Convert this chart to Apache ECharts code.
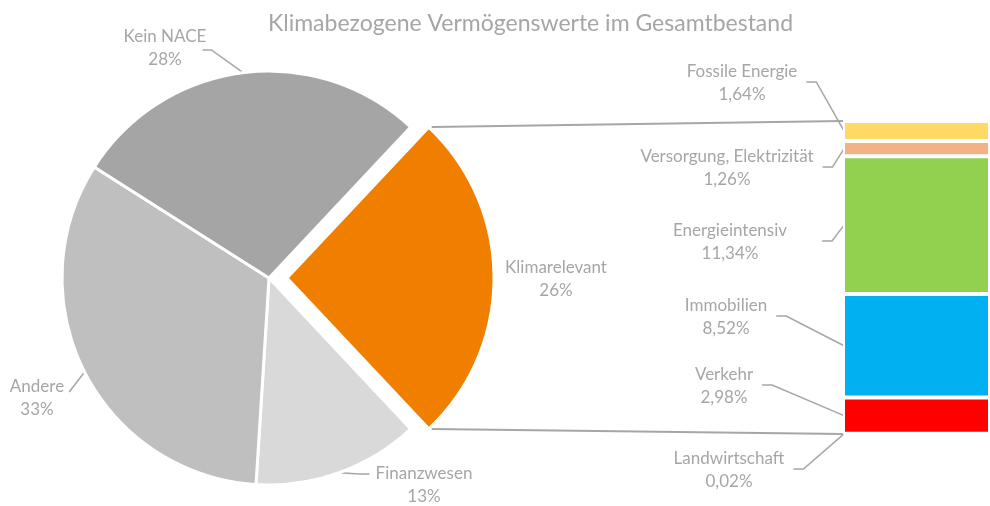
<!DOCTYPE html>
<html>
<head>
<meta charset="utf-8">
<script src="https://cdn.jsdelivr.net/npm/echarts@6/dist/echarts.min.js"></script>
<style>
  html, body { margin: 0; padding: 0; background: #fff; }
  #chart { width: 990px; height: 506px; }
</style>
</head>
<body>
<div id="chart"></div>
<script>
// Overall split of the portfolio (percent)
const pieNames = ['Klimarelevant', 'Finanzwesen', 'Andere', 'Kein NACE'];
const pieValues = [26, 13, 33, 28];
const pieColors = ['#f07f00', '#d9d9d9', '#bfbfbf', '#a5a5a5'];

// Breakdown of the climate-relevant share, listed top to bottom (percent)
const barNames = ['Fossile Energie', 'Versorgung, Elektrizität', 'Energieintensiv', 'Immobilien', 'Verkehr', 'Landwirtschaft'];
const barValues = [1.64, 1.26, 11.34, 8.52, 2.98, 0.02];
const barColors = ['#ffd966', '#f4b183', '#92d050', '#00b0f0', '#ff0000', '#c55a11'];

const titleText = 'Klimabezogene Vermögenswerte im Gesamtbestand';

// Layout settings
const FONT = 'Lato, "Open Sans", sans-serif';
const FONT_SIZE = 17;
const TEXT_GRAY = '#a6a6a6';
const LINE_GRAY = '#a6a6a6';
const PIE_CENTER = [269, 278];
const PIE_RADIUS = 207;
const PIE_OFFSET = 18;          // pull-out distance of the highlighted slice
const HIGHLIGHT = 0;            // index of the slice that is broken down in the column
const BAR_GRID = { left: 843, right: -20, top: 121, bottom: 72 };

// Label anchor points (centre of the two-line label block)
const pieLabelPos = {
  'Klimarelevant': [556, 279], 'Finanzwesen': [424, 485], 'Andere': [37, 398], 'Kein NACE': [165, 48]
};
// Leader line shape per pie label: side it leaves from, vertical shift, gap, elbow length
const pieLeader = {
  'Finanzwesen': { side: -1, dy: -11, gap: 6, elbow: 10 },
  'Andere': { side: 1, dy: -6, gap: 5, elbow: 0 },
  'Kein NACE': { side: 1, dy: 2, gap: -4, elbow: 9 }
};
const barLabelPos = {
  'Fossile Energie': [742, 83], 'Versorgung, Elektrizität': [727, 168], 'Energieintensiv': [730, 242],
  'Immobilien': [726, 317], 'Verkehr': [724, 386], 'Landwirtschaft': [729, 470]
};
const barLeaderGap = { 'Energieintensiv': 35 };

const fmtDe = (v, d) => v.toFixed(d).replace('.', ',');
const pieText = i => [pieNames[i], pieValues[i] + '%'];
const barText = i => [barNames[i], fmtDe(barValues[i], 2) + '%'];
const pieSum = pieValues.reduce((a, b) => a + b, 0);
const barSum = barValues.reduce((a, b) => a + b, 0);
const halfAngle = pieValues[HIGHLIGHT] / pieSum * 180;

// Mid angle (degrees, counter-clockwise from 3 o'clock) of each pie slice
const pieMidAngles = [];
{
  let start = halfAngle;
  pieValues.forEach(v => {
    const span = v / pieSum * 360;
    pieMidAngles.push(start - span / 2);
    start -= span;
  });
}

const labelStyle = { color: TEXT_GRAY, fontFamily: FONT, fontSize: FONT_SIZE, lineHeight: 23 };

// Width of the widest line of a label block
const measureCtx = document.createElement('canvas').getContext('2d');
measureCtx.font = FONT_SIZE + 'px ' + FONT;
const blockWidth = lines => Math.max(...lines.map(t => measureCtx.measureText(t).width));

const chart = echarts.init(document.getElementById('chart'), null, { renderer: 'canvas' });

// Two pie layers share one angular layout: the base layer holds the gray slices,
// the second layer (centre shifted outwards) holds the pulled-out slice.
function pieLayer(pulled) {
  const a = pieMidAngles[HIGHLIGHT] * Math.PI / 180;
  const center = pulled
    ? [PIE_CENTER[0] + PIE_OFFSET * Math.cos(a), PIE_CENTER[1] - PIE_OFFSET * Math.sin(a)]
    : PIE_CENTER;
  return {
    type: 'pie',
    center: center,
    radius: PIE_RADIUS,
    startAngle: halfAngle,
    clockwise: true,
    silent: true,
    emphasis: { disabled: true },
    label: { show: true, overflow: 'none', ...labelStyle, formatter: p => pieText(p.dataIndex).join('\n') },
    labelLine: { show: false },
    labelLayout: params => {
      const pos = pieLabelPos[pieNames[params.dataIndex]];
      return { x: pos[0], y: pos[1], align: 'center', verticalAlign: 'middle' };
    },
    data: pieNames.map((n, i) => {
      const visible = pulled ? i === HIGHLIGHT : i !== HIGHLIGHT;
      return {
        name: n,
        value: pieValues[i],
        itemStyle: visible
          ? { color: pieColors[i], borderColor: '#fff', borderWidth: 3 }
          : { color: 'rgba(0,0,0,0)', borderWidth: 0 },
        label: { show: visible }
      };
    })
  };
}

// Stack from the bottom segment upwards
const barSeries = barNames.map((n, i) => i).reverse().map(i => ({
  type: 'bar',
  name: barNames[i],
  stack: 'klima',
  barWidth: '100%',
  silent: true,
  emphasis: { disabled: true },
  itemStyle: { color: barColors[i], borderColor: '#fff', borderWidth: 2 },
  label: {
    show: true,
    position: 'left',
    ...labelStyle,
    formatter: () => barText(i).join('\n')
  },
  labelLayout: () => {
    const pos = barLabelPos[barNames[i]];
    return { x: pos[0], y: pos[1], align: 'center', verticalAlign: 'middle' };
  },
  data: [barValues[i]]
}));

chart.setOption({
  animation: false,
  backgroundColor: '#fff',
  title: {
    text: titleText,
    left: 263,
    top: 7,
    textStyle: { color: TEXT_GRAY, fontFamily: FONT, fontSize: 23, fontWeight: 'normal' }
  },
  grid: BAR_GRID,
  xAxis: { type: 'category', data: ['Klimarelevant'], show: false },
  yAxis: { type: 'value', min: 0, max: barSum, show: false },
  series: [pieLayer(false), pieLayer(true), ...barSeries]
});

const lineStyle = { stroke: LINE_GRAY, lineWidth: 1.5, fill: null };
const graphics = [];

// Connector lines from the pulled-out slice's outer corners to the column's corners
const tip = [PIE_CENTER[0] + PIE_OFFSET, PIE_CENTER[1]];
const rad = halfAngle * Math.PI / 180;
const cornerTop = [tip[0] + PIE_RADIUS * Math.cos(rad), tip[1] - PIE_RADIUS * Math.sin(rad)];
const cornerBottom = [tip[0] + PIE_RADIUS * Math.cos(rad), tip[1] + PIE_RADIUS * Math.sin(rad)];
const yPix = v => chart.convertToPixel({ yAxisIndex: 0 }, v);
const barLeft = BAR_GRID.left;
graphics.push(
  { type: 'line', silent: true, shape: { x1: cornerTop[0] + 3, y1: cornerTop[1], x2: barLeft, y2: yPix(barSum) },
    style: { stroke: LINE_GRAY, lineWidth: 2 } },
  { type: 'line', silent: true, shape: { x1: cornerBottom[0] + 3, y1: cornerBottom[1], x2: barLeft, y2: yPix(0) },
    style: { stroke: LINE_GRAY, lineWidth: 2 } }
);

// Leader lines of the pie labels: from the slice edge at its mid angle to the label
pieNames.forEach((n, i) => {
  const ld = pieLeader[n];
  if (!ld) return;
  const pos = pieLabelPos[n];
  const w = blockWidth(pieText(i));
  const ang = pieMidAngles[i] * Math.PI / 180;
  const edge = [PIE_CENTER[0] + PIE_RADIUS * Math.cos(ang), PIE_CENTER[1] - PIE_RADIUS * Math.sin(ang)];
  const end = [pos[0] + ld.side * (w / 2 + ld.gap), pos[1] + ld.dy];
  const elbow = [end[0] + ld.side * ld.elbow, end[1]];
  graphics.push({ type: 'polyline', silent: true, shape: { points: [edge, elbow, end] }, style: lineStyle });
});

// Leader lines of the column labels: from the label to the middle of its segment
{
  let top = barSum;
  barNames.forEach((n, i) => {
    const mid = top - barValues[i] / 2;
    top -= barValues[i];
    const pos = barLabelPos[n];
    const w = blockWidth(barText(i));
    const gap = barLeaderGap[n] || 9;
    const end = [pos[0] + w / 2 + gap, pos[1] - 1];
    const elbow = [end[0] + 10, end[1]];
    const target = [barLeft + 1, yPix(mid)];
    graphics.push({ type: 'polyline', silent: true, shape: { points: [end, elbow, target] }, style: lineStyle });
  });
}

chart.setOption({ graphic: graphics });
</script>
</body>
</html>
